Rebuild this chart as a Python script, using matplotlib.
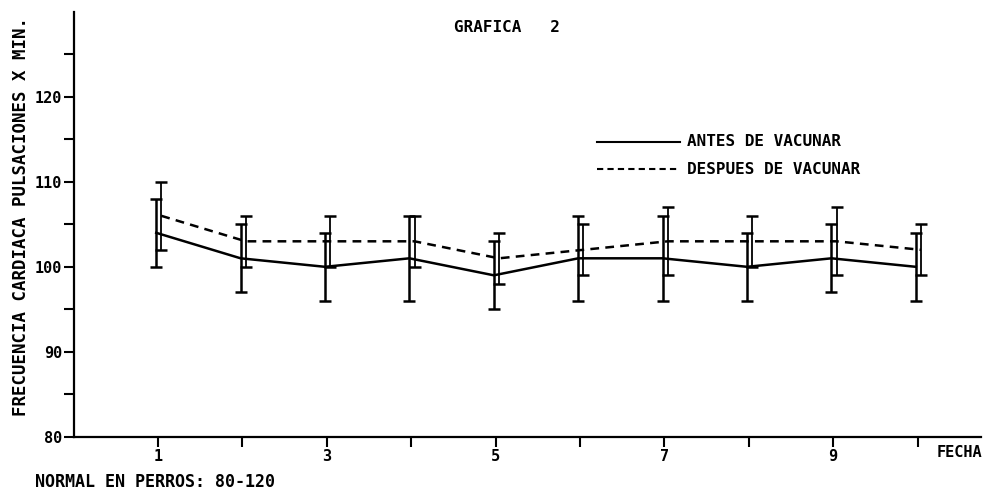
import matplotlib
matplotlib.use('agg')
import matplotlib.pyplot as plt
import numpy as np

# datos
fecha = np.arange(1, 11)
antes = [104, 101, 100, 101, 99, 101, 101, 100, 101, 100]
antes_err = [4, 4, 4, 5, 4, 5, 5, 4, 4, 4]
despues = [106, 103, 103, 103, 101, 102, 103, 103, 103, 102]
despues_err = [4, 3, 3, 3, 3, 3, 4, 3, 4, 3]
xticks = list(range(1, 11))
xlabels = ['1', '', '3', '', '5', '', '7', '', '9', '']
yticks = list(range(80, 130, 5))
ylabels = ['80', '', '90', '', '100', '', '110', '', '120', '']

plt.rcParams['font.family'] = ['DejaVu Sans Mono']
plt.rcParams['font.weight'] = 'bold'

fig = plt.figure(figsize=(9.83, 4.93), dpi=100)
ax = fig.add_axes([0.0748, 0.114, 0.923, 0.862])

ax.plot(fecha - 0.02, antes, color='black', lw=1.8, ls='-')
ax.errorbar(fecha - 0.02, antes, yerr=antes_err, fmt='none', ecolor='black',
            elinewidth=1.8, capsize=4, capthick=1.8)
ax.plot(fecha + 0.04, despues, color='black', lw=1.8, ls=(0, (3.5, 2.5)))
ax.errorbar(fecha + 0.04, despues, yerr=despues_err, fmt='none', ecolor='black',
            elinewidth=1.3, capsize=4, capthick=1.8)

ax.set_xlim(0, 10.75)
ax.set_ylim(80, 130)
ax.set_xticks(xticks)
ax.set_xticklabels(xlabels, fontsize=11)
ax.set_yticks(yticks)
ax.set_yticklabels(ylabels, fontsize=11)
ax.tick_params(axis='both', direction='out', length=7, width=1.5, color='black')
ax.tick_params(axis='x', pad=2)
ax.tick_params(axis='y', pad=1)
for s in ['top', 'right']:
    ax.spines[s].set_visible(False)
for s in ['left', 'bottom']:
    ax.spines[s].set_linewidth(1.6)

fig.text(0.021, 0.56, 'FRECUENCIA CARDIACA PULSACIONES X MIN.', rotation=90,
         ha='center', va='center', fontsize=12.5)
fig.text(0.516, 0.945, 'GRAFICA   2', ha='center', va='center', fontsize=11.5)
fig.text(0.999, 0.083, 'FECHA', ha='right', va='center', fontsize=11)
fig.text(0.036, 0.022, 'NORMAL EN PERROS: 80-120', ha='left', va='center', fontsize=12)

# leyenda dibujada a mano como en el original
ax.plot([6.2, 7.18], [114.7, 114.7], color='black', lw=1.5)
ax.text(7.27, 114.7, 'ANTES DE VACUNAR', ha='left', va='center', fontsize=11.5)
ax.plot([6.2, 7.18], [111.5, 111.5], color='black', lw=1.5, ls=(0, (3, 2)))
ax.text(7.27, 111.5, 'DESPUES DE VACUNAR', ha='left', va='center', fontsize=11.5)

fig.savefig('out.png', dpi=100)
